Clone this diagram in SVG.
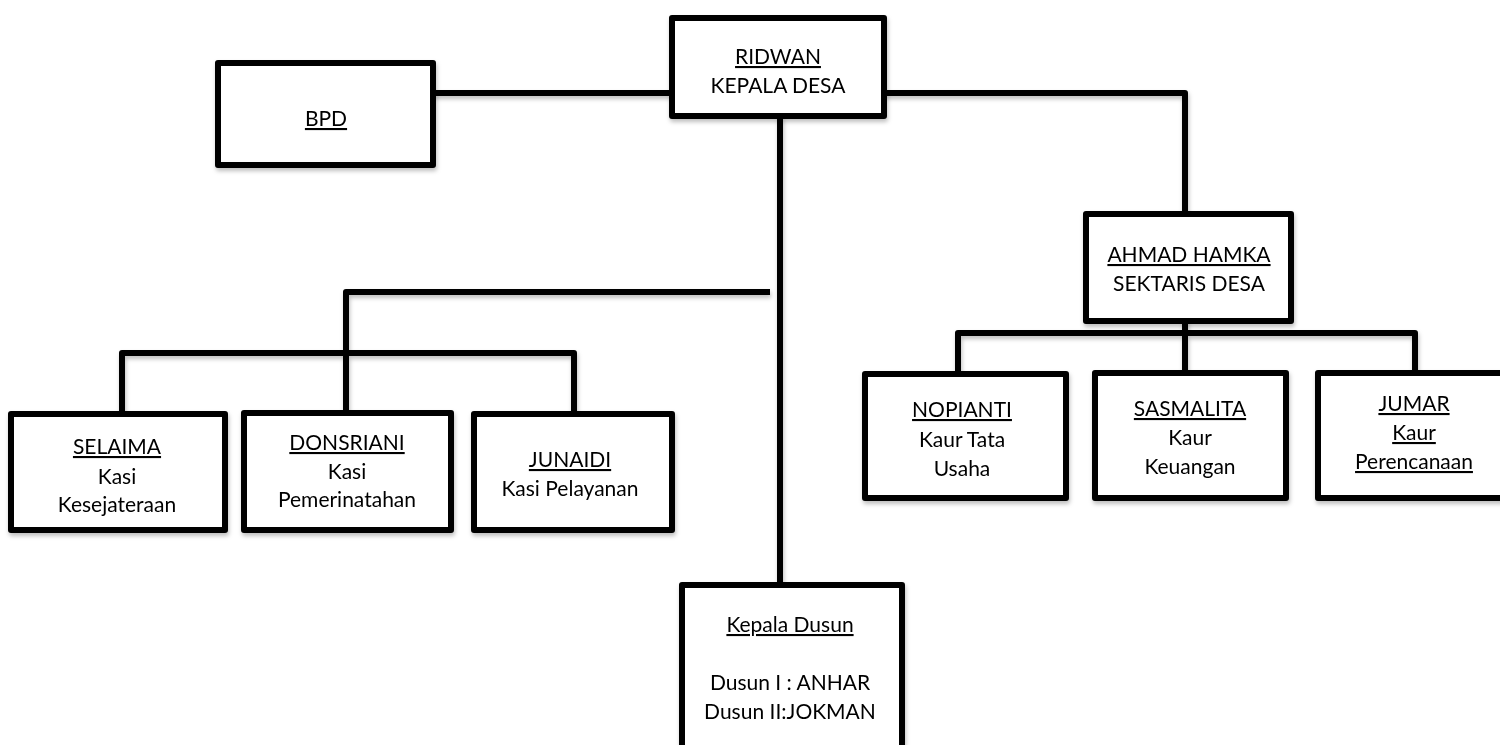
<svg xmlns="http://www.w3.org/2000/svg" width="1500" height="745" viewBox="0 0 1500 745">
<defs>
<style>
.box{fill:#fff;stroke:#000;stroke-width:6;stroke-linejoin:round}
.ln{fill:none;stroke:#000;stroke-width:6;stroke-linecap:butt;stroke-linejoin:round}
text{font-family:Lato,"Open Sans","Liberation Sans",sans-serif;font-size:21px;fill:#000;text-anchor:middle}
.u{text-decoration:underline}
</style>
<filter id="sh" x="-5%" y="-5%" width="110%" height="120%">
<feDropShadow dx="1" dy="3" stdDeviation="2" flood-color="#000" flood-opacity="0.25"/>
</filter>
</defs>
<rect width="1500" height="745" fill="#fff"/>
<g id="connectors" filter="url(#sh)">
<path class="ln" d="M433 93 H672"/>
<path class="ln" d="M884 93 H1185 V213"/>
<path class="ln" d="M780 116 V585"/>
<path class="ln" d="M770 292 H346 V413"/>
<path class="ln" d="M122 414 V353 H574 V414"/>
<path class="ln" d="M1185 320 V373"/>
<path class="ln" d="M958 374 V333 H1415 V373"/>
</g>
<g id="ridwan" filter="url(#sh)"><rect class="box" x="672" y="18" width="212" height="98"/>
<text class="u" x="778" y="64">RIDWAN</text><text x="778" y="93">KEPALA DESA</text></g>
<g id="bpd" filter="url(#sh)"><rect class="box" x="218" y="63" width="215" height="102"/>
<text class="u" x="326" y="126">BPD</text></g>
<g id="ahmad" filter="url(#sh)"><rect class="box" x="1086" y="214" width="205" height="107"/>
<text class="u" x="1189" y="262">AHMAD HAMKA</text><text x="1189" y="291">SEKTARIS DESA</text></g>
<g id="nopianti" filter="url(#sh)"><rect class="box" x="865" y="374" width="201" height="124"/>
<text class="u" x="962" y="417">NOPIANTI</text><text x="962" y="447">Kaur Tata</text><text x="962" y="476">Usaha</text></g>
<g id="sasmalita" filter="url(#sh)"><rect class="box" x="1095" y="373" width="191" height="125"/>
<text class="u" x="1190" y="416">SASMALITA</text><text x="1190" y="445">Kaur</text><text x="1190" y="474">Keuangan</text></g>
<g id="jumar" filter="url(#sh)"><rect class="box" x="1318" y="373" width="200" height="125"/>
<text class="u" x="1414" y="411">JUMAR</text><text class="u" x="1414" y="440">Kaur</text><text class="u" x="1414" y="469">Perencanaan</text></g>
<g id="selaima" filter="url(#sh)"><rect class="box" x="11" y="414" width="214" height="116"/>
<text class="u" x="117" y="454">SELAIMA</text><text x="117" y="484">Kasi</text><text x="117" y="512">Kesejateraan</text></g>
<g id="donsriani" filter="url(#sh)"><rect class="box" x="244" y="413" width="207" height="117"/>
<text class="u" x="347" y="450">DONSRIANI</text><text x="347" y="479">Kasi</text><text x="347" y="507">Pemerinatahan</text></g>
<g id="junaidi" filter="url(#sh)"><rect class="box" x="474" y="414" width="198" height="116"/>
<text class="u" x="570" y="467">JUNAIDI</text><text x="570" y="496">Kasi Pelayanan</text></g>
<g id="kepala-dusun" filter="url(#sh)"><rect class="box" x="682" y="585" width="220" height="175"/>
<text class="u" x="790" y="632">Kepala Dusun</text><text x="790" y="690">Dusun I : ANHAR</text><text x="790" y="719">Dusun II:JOKMAN</text></g>
</svg>
